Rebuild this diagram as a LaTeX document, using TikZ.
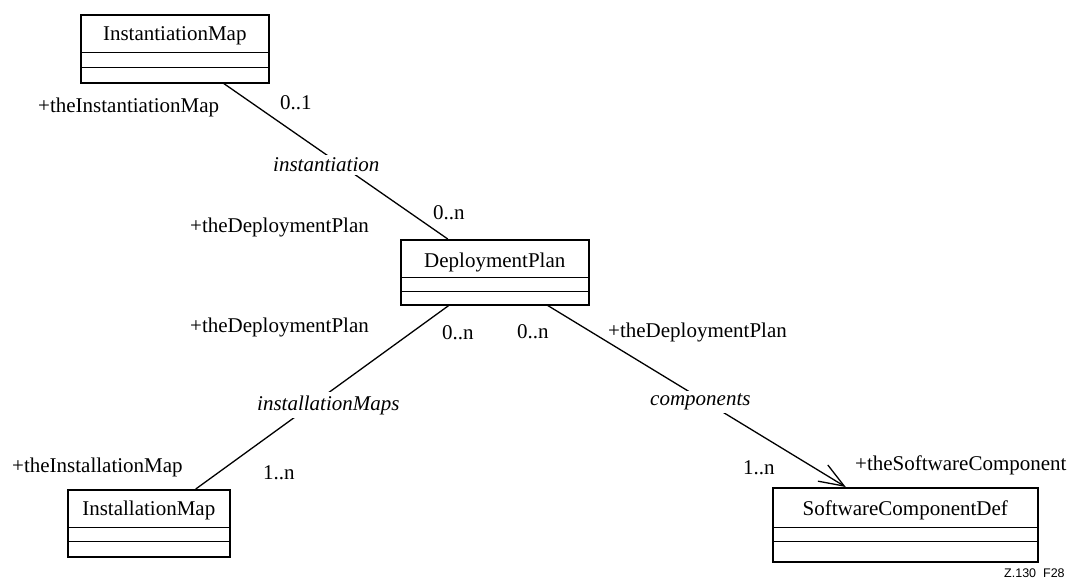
\documentclass[tikz,border=0pt]{standalone}
\usepackage{fontspec}
\setmainfont{Liberation Serif}
\newfontfamily\tagfont{Liberation Sans}
\usetikzlibrary{arrows.meta}
\begin{document}
\begin{tikzpicture}[x=1pt,y=-1pt,
  lbl/.style={anchor=west, inner sep=0pt, font=\fontsize{21}{24}\selectfont},
  assocname/.style={anchor=west, inner sep=3pt, fill=white, font=\fontsize{21}{24}\selectfont\itshape},
  classbox/.style={draw, line width=1.5pt, inner sep=0pt, anchor=north west},
  cname/.style={inner sep=0pt, font=\fontsize{21}{24}\selectfont},
  divider/.style={line width=1pt},
  assoc/.style={line width=1.3pt}]
\useasboundingbox (0,0) rectangle (1070,581);

% class boxes with their two empty compartments
\node[classbox, minimum width=188pt, minimum height=68pt] (inst) at (80,14) {};
\draw[divider] ([yshift=-38pt]inst.north west) -- ([yshift=-38pt]inst.north east);
\draw[divider] ([yshift=-53pt]inst.north west) -- ([yshift=-53pt]inst.north east);
\node[cname] (instname) at ([yshift=-22pt]inst.north) {InstantiationMap};

\node[classbox, minimum width=188pt, minimum height=65pt] (dep) at (400,239) {};
\draw[divider] ([yshift=-38pt]dep.north west) -- ([yshift=-38pt]dep.north east);
\draw[divider] ([yshift=-52pt]dep.north west) -- ([yshift=-52pt]dep.north east);
\node[cname] (depname) at ([yshift=-23pt]dep.north) {DeploymentPlan};

\node[classbox, minimum width=162pt, minimum height=67pt] (imap) at (67,489) {};
\draw[divider] ([yshift=-38pt]imap.north west) -- ([yshift=-38pt]imap.north east);
\draw[divider] ([yshift=-52pt]imap.north west) -- ([yshift=-52pt]imap.north east);
\node[cname] (imapname) at ([yshift=-21pt]imap.north) {InstallationMap};

\node[classbox, minimum width=265pt, minimum height=74pt] (swc) at (772,487) {};
\draw[divider] ([yshift=-40pt]swc.north west) -- ([yshift=-40pt]swc.north east);
\draw[divider] ([yshift=-54pt]swc.north west) -- ([yshift=-54pt]swc.north east);
\node[cname] (swcname) at ([yshift=-23pt]swc.north) {SoftwareComponentDef};

% associations
\draw[assoc] ([xshift=49pt]inst.south) -- ([xshift=-47pt]dep.north);
\draw[assoc] ([xshift=-46pt]dep.south) -- ([xshift=47pt]imap.north);
\draw[assoc, -{Straight Barb[length=25pt, width=19pt, line width=1.3pt]}]
  ([xshift=53pt]dep.south) -- ([xshift=-59.5pt]swc.north);

% association names
\node[assocname] (n1) at (270,165) {instantiation};
\node[assocname] (n2) at (254,405) {installationMaps};
\node[assocname] (n3) at (647,402) {components};

% role names and multiplicities
\node[lbl] (r1) at (38,107) {+theInstantiationMap};
\node[lbl] (m1) at (280,103) {0..1};
\node[lbl] (m2) at (433,213) {0..n};
\node[lbl] (r2) at (190,227) {+theDeploymentPlan};
\node[lbl] (r3) at (190,327) {+theDeploymentPlan};
\node[lbl] (m3) at (442,333) {0..n};
\node[lbl] (m4) at (517,332) {0..n};
\node[lbl] (r4) at (608,332) {+theDeploymentPlan};
\node[lbl] (r5) at (12,467) {+theInstallationMap};
\node[lbl] (m5) at (263,473) {1..n};
\node[lbl] (m6) at (743,468) {1..n};
\node[lbl] (r6) at (855,465) {+theSoftwareComponent};

\node[anchor=west, inner sep=0pt, font=\tagfont\fontsize{12.5}{14}\selectfont] (fig) at (1004,573) {Z.130\ \ F28};
\end{tikzpicture}
\end{document}
